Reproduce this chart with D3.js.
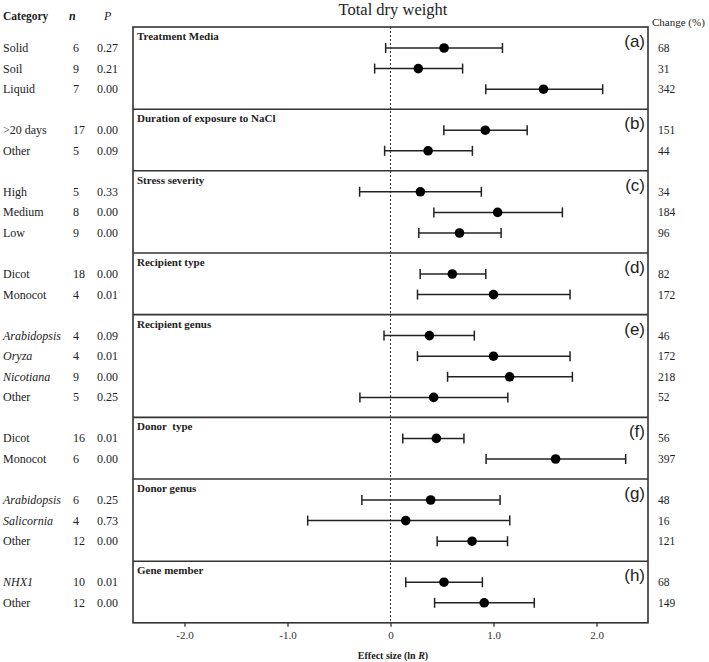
<!DOCTYPE html>
<html>
<head>
<meta charset="utf-8">
<script src="https://cdn.jsdelivr.net/npm/d3@7"></script>
<style>
  html, body { margin: 0; padding: 0; background: #fff; }
  svg { display: block; }
  .serif { font-family: "Liberation Serif", Tinos, "DejaVu Serif", "Times New Roman", serif; }
  .sans { font-family: "Liberation Sans", Arimo, Arial, sans-serif; }
  text { white-space: pre; }
</style>
</head>
<body>
<svg id="chart" width="709" height="662"></svg>
<script>
// ---- data ----
const panelTitles = ["Treatment Media", "Duration of exposure to NaCl", "Stress severity", "Recipient type",
  "Recipient genus", "Donor  type", "Donor genus", "Gene member"];
const panelLetters = ["(a)", "(b)", "(c)", "(d)", "(e)", "(f)", "(g)", "(h)"];
const rowPanel = [0,0,0, 1,1, 2,2,2, 3,3, 4,4,4,4, 5,5, 6,6,6, 7,7];
const categories = ["Solid", "Soil", "Liquid", ">20 days", "Other", "High", "Medium", "Low", "Dicot", "Monocot",
  "Arabidopsis", "Oryza", "Nicotiana", "Other", "Dicot", "Monocot", "Arabidopsis", "Salicornia", "Other", "NHX1", "Other"];
const italicCat = [0,0,0, 0,0, 0,0,0, 0,0, 1,1,1,0, 0,0, 1,1,0, 1,0];
const nValues = [6, 9, 7, 17, 5, 5, 8, 9, 18, 4, 4, 4, 9, 5, 16, 6, 6, 4, 12, 10, 12];
const pValues = ["0.27", "0.21", "0.00", "0.00", "0.09", "0.33", "0.00", "0.00", "0.00", "0.01",
  "0.09", "0.01", "0.00", "0.25", "0.01", "0.00", "0.25", "0.73", "0.00", "0.01", "0.00"];
const effect = [0.52, 0.27, 1.485, 0.92, 0.365, 0.29, 1.04, 0.67, 0.60, 1.00,
  0.378, 1.00, 1.157, 0.419, 0.445, 1.603, 0.39, 0.148, 0.792, 0.519, 0.91];
const ciLower = [-0.047, -0.154, 0.925, 0.518, -0.057, -0.30, 0.421, 0.275, 0.288, 0.262,
  -0.063, 0.262, 0.554, -0.297, 0.119, 0.928, -0.278, -0.804, 0.453, 0.148, 0.428];
const ciUpper = [1.087, 0.70, 2.06, 1.327, 0.795, 0.882, 1.669, 1.074, 0.925, 1.743,
  0.814, 1.743, 1.766, 1.139, 0.713, 2.283, 1.064, 1.158, 1.136, 0.892, 1.396];
const changePct = [68, 31, 342, 151, 44, 34, 184, 96, 82, 172, 46, 172, 218, 52, 56, 397, 48, 16, 121, 68, 149];
const xTicks = [-2, -1, 0, 1, 2];
const xTickLabels = ["-2.0", "-1.0", "0", "1.0", "2.0"];

// ---- layout ----
const svg = d3.select("#chart");
const plotLeft = 133, plotRight = 648, plotTop = 27;
const rowStep = 20.6, firstRowOff = 21, lastRowGap = 20;

const x = d3.scaleLinear().domain([-2.5, 2.5]).range([plotLeft, plotRight]);

const panelRows = panelTitles.map((_, i) => rowPanel.filter(p => p === i).length);
const panelTop = [];
let acc = plotTop;
panelRows.forEach(n => { panelTop.push(acc); acc += firstRowOff + (n - 1) * rowStep + lastRowGap; });
const plotBottom = acc;
const rowY = rowPanel.map((p, i) => {
  const idx = rowPanel.slice(0, i).filter(q => q === p).length;
  return panelTop[p] + firstRowOff + idx * rowStep;
});

function txt(g, cls, xx, yy, size, s) {
  return g.append("text").attr("class", cls).attr("x", xx).attr("y", yy)
    .style("font-size", size + "px").attr("fill", "#222").text(s);
}

// title
txt(svg, "serif", 393, 15, 16.5, "Total dry weight").attr("text-anchor", "middle");

// headers
txt(svg, "serif", 3, 20, 11.5, "Category").style("font-weight", "bold");
txt(svg, "serif", 69, 20, 12, "n").style("font-weight", "bold").style("font-style", "italic");
txt(svg, "serif", 104, 20, 12, "P").style("font-style", "italic");
txt(svg, "serif", 652, 26, 11, "Change (%)");

// panels
const panels = svg.append("g");
panelTitles.forEach((t, i) => {
  txt(panels, "serif", 137, panelTop[i] + 13, 11, t).style("font-weight", "bold");
  txt(panels, "sans", plotRight - 3, panelTop[i] + 20, 17, panelLetters[i]).attr("text-anchor", "end");
  if (i > 0) {
    panels.append("line").attr("x1", plotLeft).attr("x2", plotRight)
      .attr("y1", panelTop[i]).attr("y2", panelTop[i]).attr("stroke", "#333").attr("stroke-width", 1.6);
  }
});

// zero line
svg.append("line").attr("x1", x(0)).attr("x2", x(0)).attr("y1", plotTop).attr("y2", plotBottom)
  .attr("stroke", "#333").attr("stroke-width", 1).attr("stroke-dasharray", "2,2");

// outer box
svg.append("rect").attr("x", plotLeft).attr("y", plotTop).attr("width", plotRight - plotLeft)
  .attr("height", plotBottom - plotTop).attr("fill", "none").attr("stroke", "#333").attr("stroke-width", 1.6);

// error bars
const bars = svg.append("g").attr("stroke", "#222").attr("stroke-width", 1.5);
categories.forEach((c, i) => {
  const y = rowY[i];
  bars.append("line").attr("x1", x(ciLower[i])).attr("x2", x(ciUpper[i])).attr("y1", y).attr("y2", y);
  bars.append("line").attr("x1", x(ciLower[i])).attr("x2", x(ciLower[i])).attr("y1", y - 5).attr("y2", y + 5);
  bars.append("line").attr("x1", x(ciUpper[i])).attr("x2", x(ciUpper[i])).attr("y1", y - 5).attr("y2", y + 5);
});
svg.append("g").selectAll("circle").data(categories).join("circle")
  .attr("cx", (d, i) => x(effect[i])).attr("cy", (d, i) => rowY[i]).attr("r", 4.8).attr("fill", "#000");

// left table + change column
const left = svg.append("g");
categories.forEach((c, i) => {
  const y = rowY[i] + 4;
  txt(left, "serif", 3, y, 12, c).style("font-style", italicCat[i] ? "italic" : "normal");
  txt(left, "serif", 73, y, 12, nValues[i]);
  txt(left, "serif", 118, y, 12, pValues[i]).attr("text-anchor", "end");
  txt(left, "serif", 658, y, 11.5, changePct[i]);
});

// x axis
const axis = d3.axisBottom(x).tickValues(xTicks).tickSize(4).tickPadding(4)
  .tickFormat((d, i) => xTickLabels[i]);
const ax = svg.append("g").attr("transform", `translate(0,${plotBottom})`).call(axis);
ax.select(".domain").remove();
ax.selectAll(".tick line").attr("stroke", "#333").attr("stroke-width", 1.3);
ax.selectAll(".tick text").attr("class", "serif").style("font-size", "11px").attr("fill", "#333");

const xt = svg.append("text").attr("class", "serif").attr("x", 393).attr("y", 659).attr("text-anchor", "middle")
  .style("font-weight", "bold").style("font-size", "10px").attr("fill", "#222");
xt.append("tspan").text("Effect size (ln ");
xt.append("tspan").style("font-style", "italic").text("R");
xt.append("tspan").text(")");
</script>
</body>
</html>
